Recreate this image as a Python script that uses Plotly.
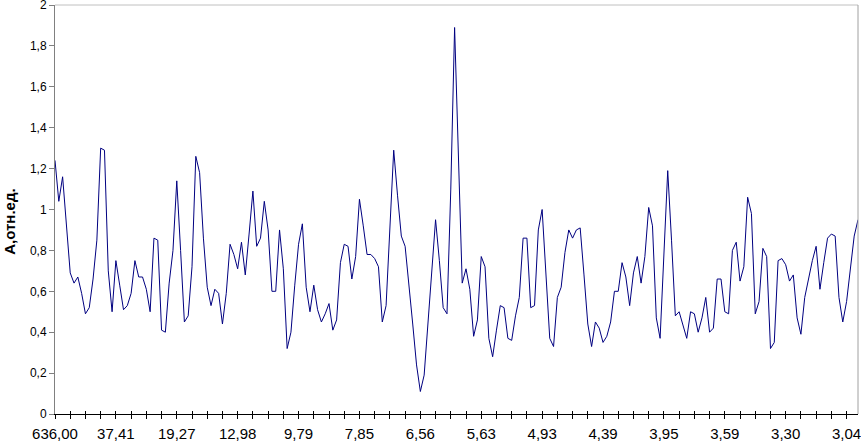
import plotly.graph_objects as go

# harmonic number k (category), the axis shows the period 636/k
harmonic = list(range(1, 213))

amplitude = [
    1.24, 1.04, 1.16, 0.92, 0.69, 0.64, 0.67, 0.59, 0.49, 0.52,
    0.66, 0.85, 1.30, 1.29, 0.70, 0.50, 0.75, 0.63, 0.51, 0.53,
    0.59, 0.75, 0.67, 0.67, 0.61, 0.50, 0.86, 0.85, 0.41, 0.40,
    0.64, 0.80, 1.14, 0.80, 0.45, 0.48, 0.72, 1.26, 1.18, 0.86,
    0.62, 0.53, 0.61, 0.59, 0.44, 0.59, 0.83, 0.78, 0.71, 0.84,
    0.68, 0.88, 1.09, 0.82, 0.86, 1.04, 0.90, 0.60, 0.60, 0.90,
    0.71, 0.32, 0.40, 0.63, 0.83, 0.93, 0.62, 0.50, 0.63, 0.51,
    0.45, 0.49, 0.54, 0.41, 0.46, 0.74, 0.83, 0.82, 0.66, 0.77,
    1.05, 0.92, 0.78, 0.78, 0.76, 0.72, 0.45, 0.53, 0.88, 1.29,
    1.07, 0.87, 0.82, 0.64, 0.44, 0.24, 0.11, 0.19, 0.44, 0.70,
    0.95, 0.75, 0.52, 0.49, 1.10, 1.89, 1.22, 0.64, 0.71, 0.61,
    0.38, 0.46, 0.77, 0.72, 0.37, 0.28, 0.41, 0.53, 0.52, 0.37,
    0.36, 0.48, 0.57, 0.86, 0.86, 0.52, 0.53, 0.90, 1.00, 0.68,
    0.37, 0.33, 0.57, 0.62, 0.79, 0.90, 0.86, 0.90, 0.91, 0.68,
    0.44, 0.33, 0.45, 0.42, 0.35, 0.38, 0.45, 0.60, 0.60, 0.74,
    0.67, 0.53, 0.69, 0.77, 0.64, 0.77, 1.01, 0.92, 0.47, 0.37,
    0.78, 1.19, 0.85, 0.48, 0.50, 0.44, 0.37, 0.50, 0.49, 0.40,
    0.47, 0.57, 0.40, 0.42, 0.66, 0.66, 0.50, 0.49, 0.80, 0.84,
    0.65, 0.72, 1.06, 0.98, 0.49, 0.55, 0.81, 0.77, 0.32, 0.35,
    0.75, 0.76, 0.73, 0.65, 0.68, 0.47, 0.39, 0.57, 0.67, 0.75,
    0.82, 0.61, 0.74, 0.86, 0.88, 0.87, 0.57, 0.45, 0.55, 0.72,
    0.87, 0.95,
]

# labelled categories (every 16th) and their text
label_k = [1, 17, 33, 49, 65, 81, 97, 113, 129, 145, 161, 177, 193, 209]
label_text = ["636,00", "37,41", "19,27", "12,98", "9,79", "7,85", "6,56",
              "5,63", "4,93", "4,39", "3,95", "3,59", "3,30", "3,04"]
tick_k = list(range(1, 213, 4))
y_ticks = [0, 0.2, 0.4, 0.6, 0.8, 1, 1.2, 1.4, 1.6, 1.8, 2]

FONT = "Liberation Sans, Arial, sans-serif"

fig = go.Figure()
fig.add_trace(go.Scatter(
    x=harmonic, y=amplitude, mode="lines",
    line=dict(color="#000080", width=1),
    showlegend=False, hoverinfo="skip",
))
# invisible copy so the overlay axis (inner half of the crossing ticks) is drawn
fig.add_trace(go.Scatter(
    x=harmonic, y=amplitude, mode="lines", xaxis="x2",
    line=dict(color="rgba(0,0,0,0)", width=0),
    showlegend=False, hoverinfo="skip",
))

fig.update_layout(
    width=861, height=441,
    margin=dict(l=55, r=3, t=5, b=27),
    paper_bgcolor="white", plot_bgcolor="white",
    separators=", ",
    font=dict(family=FONT, color="black"),
    xaxis=dict(
        range=[1, 212], showgrid=False, zeroline=False,
        showline=True, linecolor="black", linewidth=1,
        tickmode="array", tickvals=label_k, ticktext=label_text,
        ticks="outside", ticklen=4, tickcolor="black",
        tickfont=dict(size=15, family=FONT),
        ticklabelstandoff=2, ticklabeloverflow="allow",
        minor=dict(tickmode="array", tickvals=tick_k, ticks="outside",
                   ticklen=4, tickcolor="black"),
        automargin=False,
    ),
    xaxis2=dict(
        overlaying="x", anchor="y", side="bottom", range=[1, 212],
        showgrid=False, zeroline=False, showline=False,
        tickmode="array", tickvals=tick_k, showticklabels=False,
        ticks="inside", ticklen=3, tickcolor="black",
        automargin=False,
    ),
    yaxis=dict(
        range=[0, 2], tickmode="array", tickvals=y_ticks,
        showgrid=False, zeroline=False,
        showline=True, linecolor="#808080", linewidth=1,
        ticks="outside", ticklen=5, tickcolor="#808080",
        tickfont=dict(size=12, family=FONT),
        ticklabeloverflow="allow",
        automargin=False,
    ),
    shapes=[
        dict(type="line", xref="paper", yref="paper", x0=0, x1=1, y0=1, y1=1,
             line=dict(color="#c0c0c0", width=1)),
        dict(type="line", xref="paper", yref="paper", x0=1, x1=1, y0=0, y1=1,
             line=dict(color="#a0a0a0", width=1)),
    ],
    annotations=[
        dict(text="<b>А,отн.ед.</b>", xref="paper", yref="paper",
             x=0, y=0.47, xshift=-45, xanchor="center", yanchor="middle",
             textangle=-90, showarrow=False,
             font=dict(size=15, family=FONT, color="black")),
    ],
)

fig.write_html("out.html", config={"displayModeBar": False},
               post_script="document.body.style.margin='0px';")
